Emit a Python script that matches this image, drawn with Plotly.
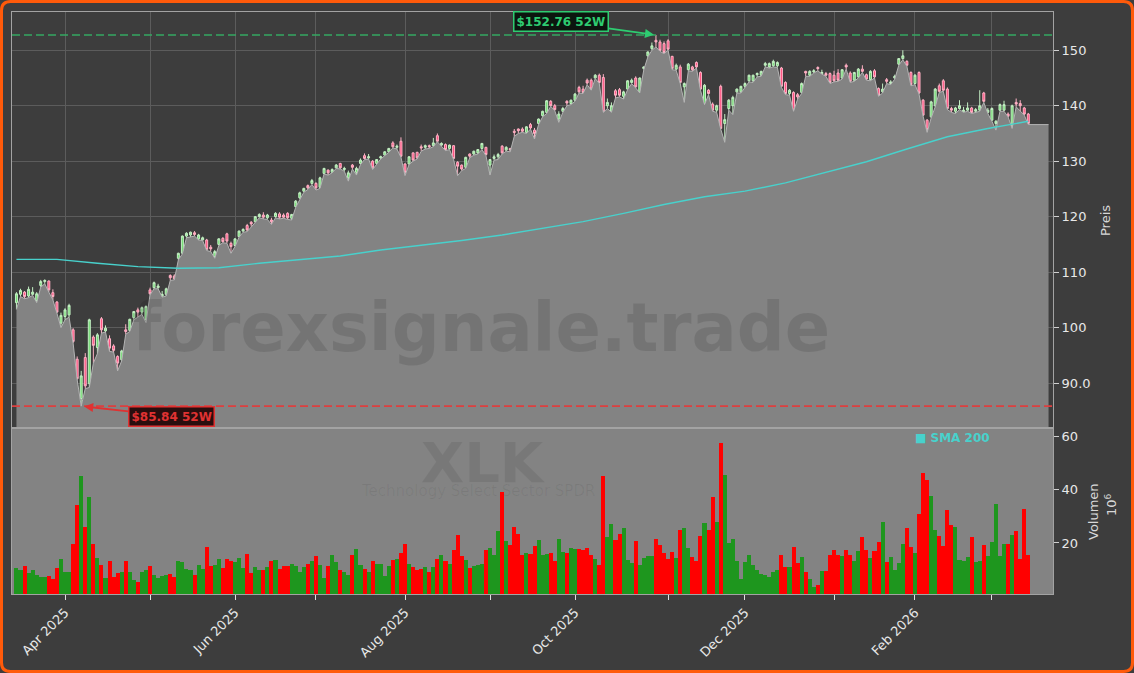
import pandas as pd
import plotly.graph_objects as go

# ---------------- data ----------------
holidays = ["2025-04-18", "2025-05-26", "2025-06-19", "2025-07-04", "2025-09-01",
            "2025-11-27", "2025-12-25", "2026-01-01", "2026-01-19", "2026-02-16"]
dates = [d for d in pd.bdate_range("2025-03-14", "2026-03-13")
         if d.strftime("%Y-%m-%d") not in holidays]

opens = [
    104.5, 106.0, 106.4, 105.7, 106.0, 104.9, 107.6, 108.3, 108.4, 106.3,
    104.6, 100.8, 102.0, 102.3, 99.6, 94.3, 87.2, 94.6, 89.9, 98.3,
    96.4, 101.6, 99.4, 98.0, 96.7, 94.8, 94.2, 99.6, 99.5, 101.8,
    103.2, 102.8, 101.5, 106.8, 107.2, 107.2, 105.7, 106.0, 109.4, 109.3,
    112.5, 113.4, 116.5, 116.7, 117.1, 116.0, 115.8, 115.8, 114.5, 112.8,
    115.0, 116.1, 116.9, 115.2, 114.8, 116.4, 117.4, 118.4, 119.0, 119.1,
    120.0, 120.3, 119.8, 119.4, 120.0, 120.5, 120.3, 120.6, 119.7, 121.8,
    123.4, 124.6, 125.6, 126.0, 126.0, 125.3, 127.8, 128.4, 128.0, 128.8,
    129.6, 128.5, 127.0, 129.3, 128.0, 129.6, 131.0, 130.6, 130.0, 129.6,
    130.6, 131.1, 131.7, 133.3, 132.5, 133.6, 129.5, 129.5, 131.5, 131.6,
    132.6, 132.5, 132.8, 132.8, 134.6, 132.9, 133.0, 132.3, 132.8, 129.8,
    129.3, 128.9, 131.3, 131.3, 131.5, 132.3, 132.5, 129.3, 130.5, 130.8,
    132.7, 132.0, 132.3, 135.4, 135.8, 135.8, 135.2, 136.6, 135.6, 136.8,
    138.2, 138.8, 140.8, 140.0, 137.6, 139.0, 140.8, 140.4, 141.0, 143.3,
    143.0, 144.6, 144.6, 145.0, 145.5, 145.1, 140.0, 139.0, 142.7, 142.9,
    141.7, 143.0, 144.2, 145.0, 142.5, 146.7, 149.0, 150.3, 151.8, 151.5,
    151.2, 151.7, 148.9, 146.6, 147.0, 143.4, 146.5, 147.0, 147.8, 146.0,
    140.4, 142.8, 140.3, 139.2, 143.5, 136.8, 139.5, 140.0, 142.5, 142.5,
    143.5, 144.5, 144.5, 145.6, 145.5, 147.3, 147.0, 147.2, 147.2, 146.8,
    144.2, 142.2, 142.4, 142.0, 142.4, 146.2, 145.5, 146.1, 146.9, 145.8,
    145.8, 145.8, 145.5, 145.9, 145.0, 147.3, 145.9, 144.6, 145.2, 146.6,
    145.6, 144.7, 146.3, 143.1, 142.5, 144.7, 144.0, 145.0, 147.5, 148.5,
    148.0, 146.0, 144.0, 146.0, 141.0, 137.4, 138.0, 140.0, 143.6, 144.5,
    143.0, 139.5, 139.0, 139.5, 138.9, 139.2, 139.6, 139.0, 139.2, 142.3,
    138.8, 137.4, 136.8, 139.2, 139.2, 138.5, 136.4, 140.6, 140.4, 139.6, 138.5]

highs = [
    106.4, 107.0, 106.6, 107.4, 107.3, 106.4, 108.6, 108.7, 108.5, 106.9,
    104.8, 102.7, 103.5, 104.3, 99.9, 94.8, 92.2, 95.4, 101.6, 98.6,
    99.0, 101.9, 100.4, 98.6, 97.0, 95.0, 96.0, 100.6, 101.6, 103.0,
    103.6, 103.8, 104.0, 107.2, 108.3, 107.9, 106.6, 107.2, 109.6, 109.6,
    113.5, 116.6, 117.2, 117.3, 117.4, 116.9, 116.4, 116.0, 114.9, 114.0,
    116.1, 116.3, 117.1, 115.5, 116.1, 117.5, 117.9, 118.7, 119.2, 120.1,
    120.6, 120.8, 120.5, 119.8, 120.8, 120.8, 120.6, 120.8, 120.5, 123.0,
    124.5, 125.2, 125.8, 126.8, 126.2, 127.2, 128.8, 128.5, 128.7, 129.5,
    129.7, 129.0, 128.3, 129.5, 129.0, 130.5, 131.4, 131.3, 130.2, 130.4,
    131.0, 131.8, 132.4, 133.6, 133.0, 134.3, 129.6, 130.9, 131.6, 131.7,
    133.0, 133.0, 133.0, 134.2, 135.0, 133.4, 133.2, 133.0, 132.9, 130.0,
    129.4, 130.8, 131.4, 131.9, 132.2, 133.3, 132.6, 130.4, 131.2, 131.5,
    132.9, 132.7, 132.4, 135.8, 135.9, 136.1, 136.3, 136.9, 136.0, 137.7,
    139.1, 141.0, 141.0, 140.3, 139.0, 139.8, 141.0, 141.1, 142.3, 143.6,
    143.6, 144.9, 144.9, 145.7, 145.8, 145.7, 141.3, 140.6, 143.0, 143.2,
    142.7, 144.6, 144.9, 145.3, 145.1, 147.1, 149.8, 151.4, 152.76, 151.9,
    151.6, 152.0, 149.0, 147.6, 147.4, 144.2, 147.7, 147.2, 148.0, 146.2,
    143.9, 143.0, 140.6, 140.2, 143.8, 138.5, 141.2, 141.8, 143.1, 143.6,
    144.2, 145.6, 145.6, 146.0, 146.3, 147.9, 147.8, 148.3, 148.0, 147.0,
    144.4, 143.0, 142.6, 142.3, 144.2, 146.3, 146.4, 146.6, 147.1, 146.5,
    146.1, 146.0, 146.3, 146.6, 146.6, 147.6, 146.2, 146.1, 146.8, 147.3,
    145.8, 146.4, 146.6, 143.3, 144.0, 145.0, 144.6, 145.6, 148.6, 150.0,
    148.2, 146.2, 145.7, 146.2, 141.2, 137.6, 140.9, 143.2, 144.0, 144.8,
    143.3, 139.8, 139.8, 141.0, 139.8, 140.6, 139.8, 139.6, 142.8, 142.5,
    139.6, 139.7, 137.4, 140.4, 140.9, 138.8, 140.2, 141.3, 141.0, 139.8, 138.7]

lows = [
    103.3, 105.6, 105.2, 105.4, 105.8, 104.5, 107.3, 107.9, 106.4, 105.0,
    102.6, 100.0, 101.4, 101.9, 97.2, 90.6, 85.84, 89.0, 89.2, 93.6,
    95.3, 99.0, 99.2, 95.7, 95.6, 92.2, 94.0, 98.8, 99.3, 101.4,
    101.9, 102.4, 100.9, 105.9, 107.0, 107.0, 105.5, 105.7, 108.5, 108.6,
    112.2, 113.3, 116.2, 116.3, 116.5, 115.8, 115.7, 113.9, 113.7, 112.5,
    114.8, 115.3, 115.2, 113.4, 114.6, 116.3, 117.2, 117.3, 118.2, 118.9,
    119.8, 119.6, 119.5, 118.6, 119.8, 119.6, 119.7, 119.5, 119.4, 121.7,
    123.2, 124.4, 124.9, 125.8, 124.8, 125.1, 127.7, 127.5, 127.9, 128.7,
    128.6, 128.2, 126.4, 128.6, 127.5, 129.4, 130.3, 130.4, 128.5, 129.4,
    130.4, 131.0, 131.6, 132.4, 132.2, 130.7, 127.4, 129.4, 130.0, 130.4,
    131.8, 132.2, 132.3, 132.6, 133.5, 132.7, 131.9, 132.1, 130.3, 127.4,
    128.3, 128.7, 130.6, 131.1, 131.3, 132.1, 131.0, 127.5, 130.2, 130.3,
    131.3, 131.8, 131.7, 134.5, 135.0, 135.2, 135.0, 135.8, 134.0, 136.6,
    138.0, 138.6, 139.9, 139.1, 137.0, 138.8, 140.0, 140.2, 140.8, 142.3,
    142.2, 143.8, 142.8, 144.9, 144.0, 138.8, 139.5, 138.8, 141.4, 141.6,
    141.2, 142.9, 144.0, 143.2, 142.3, 146.5, 148.8, 150.0, 150.6, 149.8,
    149.4, 150.0, 146.5, 146.4, 144.0, 140.6, 146.3, 146.2, 146.8, 142.8,
    140.2, 142.0, 139.0, 138.8, 135.8, 133.4, 139.2, 138.4, 142.3, 142.3,
    143.2, 144.3, 144.2, 145.2, 145.3, 147.0, 146.8, 147.0, 146.9, 143.3,
    142.0, 141.9, 139.0, 141.2, 142.2, 145.3, 145.3, 145.9, 146.3, 145.7,
    145.3, 144.0, 144.3, 144.4, 144.8, 146.6, 144.2, 144.4, 145.0, 146.0,
    144.6, 144.5, 145.0, 141.7, 142.3, 144.0, 143.8, 144.8, 147.3, 148.3,
    147.1, 143.6, 143.8, 142.1, 138.1, 135.2, 137.8, 139.8, 142.4, 142.6,
    139.3, 138.8, 138.6, 139.3, 138.8, 139.0, 138.6, 138.8, 139.0, 140.6,
    138.6, 137.2, 135.6, 139.0, 139.0, 138.0, 135.9, 139.8, 139.0, 138.3, 136.6]

closes = [
    106.1, 106.7, 105.6, 106.9, 106.4, 106.1, 108.3, 108.5, 106.8, 105.6,
    102.8, 102.2, 103.2, 104.0, 97.5, 90.8, 91.3, 89.5, 101.4, 96.8,
    98.7, 99.6, 99.9, 96.3, 95.9, 93.6, 95.8, 99.3, 101.5, 102.9,
    102.8, 103.6, 103.8, 106.1, 108.1, 107.5, 106.0, 107.0, 109.0, 108.8,
    113.4, 116.5, 117.0, 117.2, 116.8, 116.7, 116.2, 114.1, 114.2, 113.7,
    116.0, 115.5, 115.6, 114.6, 116.0, 117.4, 117.7, 117.6, 118.7, 120.0,
    120.4, 119.9, 120.3, 119.1, 120.6, 119.9, 119.9, 119.8, 120.4, 122.8,
    124.3, 125.1, 125.2, 126.5, 125.2, 127.0, 128.7, 127.9, 128.5, 129.3,
    128.8, 128.7, 127.9, 128.9, 128.7, 130.2, 130.5, 130.8, 128.8, 130.3,
    130.8, 131.7, 132.3, 132.6, 132.7, 130.9, 128.0, 130.8, 130.2, 130.6,
    132.4, 132.8, 132.6, 133.3, 133.6, 133.2, 132.1, 132.9, 130.5, 129.1,
    128.6, 130.7, 130.9, 131.8, 132.1, 133.2, 131.2, 130.3, 130.8, 131.2,
    131.5, 132.5, 132.0, 135.2, 135.5, 135.4, 136.2, 136.0, 135.0, 137.6,
    139.0, 140.9, 140.0, 139.3, 138.5, 139.5, 140.5, 141.0, 142.1, 142.5,
    142.4, 144.1, 143.0, 145.5, 144.2, 138.9, 140.6, 140.0, 141.9, 141.9,
    142.5, 144.5, 144.6, 143.4, 145.0, 147.0, 149.7, 150.8, 151.5, 150.0,
    149.6, 150.2, 146.7, 147.3, 144.2, 144.0, 147.5, 146.5, 147.0, 143.0,
    143.7, 142.2, 139.2, 140.0, 135.9, 137.5, 141.0, 141.5, 143.0, 143.5,
    144.0, 145.5, 145.5, 145.8, 146.2, 147.6, 147.6, 148.0, 147.8, 143.5,
    142.2, 142.8, 139.2, 141.6, 144.0, 145.9, 146.2, 146.3, 146.7, 146.0,
    145.5, 144.2, 144.5, 144.6, 146.5, 147.0, 144.4, 146.0, 146.6, 146.2,
    144.8, 146.2, 145.2, 141.9, 143.0, 144.4, 144.3, 145.3, 148.5, 149.0,
    147.3, 143.8, 145.5, 142.3, 138.3, 135.7, 140.7, 143.0, 142.6, 142.8,
    139.5, 139.2, 139.6, 140.0, 139.2, 139.6, 138.8, 139.3, 140.0, 140.8,
    139.2, 139.5, 137.2, 140.2, 140.2, 138.1, 140.0, 140.3, 140.0, 138.5, 136.8]

volumes_mio = [
    10.5, 9.9, 11.4, 8.7, 10.0, 8.0, 7.4, 7.2, 7.7, 6.4,
    10.5, 13.9, 9.0, 9.0, 19.6, 34.2, 45.1, 26.1, 37.1, 19.6,
    14.3, 11.8, 6.8, 13.3, 7.4, 8.9, 9.0, 13.3, 9.0, 6.2,
    5.4, 9.1, 9.9, 11.4, 8.0, 6.8, 7.7, 8.0, 8.4, 7.4,
    13.3, 12.7, 10.4, 9.7, 8.0, 11.8, 10.3, 18.5, 11.4, 11.8,
    14.0, 10.8, 14.0, 13.3, 12.9, 14.4, 10.8, 15.9, 8.9, 11.0,
    9.7, 9.7, 11.0, 13.3, 13.6, 10.4, 11.2, 11.4, 12.1, 11.4,
    9.1, 11.0, 12.1, 13.3, 15.1, 11.8, 6.9, 11.4, 15.5, 12.9,
    9.9, 9.1, 8.0, 15.5, 17.8, 11.8, 10.3, 9.1, 13.3, 12.1,
    12.1, 7.7, 11.4, 13.6, 13.9, 16.4, 19.6, 12.1, 11.0, 9.9,
    10.3, 11.0, 9.2, 11.0, 14.0, 15.5, 13.3, 12.1, 17.4, 23.0,
    15.1, 13.6, 10.7, 11.2, 11.6, 12.1, 17.4, 18.1, 15.5, 24.6,
    39.1, 20.8, 19.3, 26.0, 23.4, 15.5, 16.3, 15.9, 18.9, 21.1,
    15.5, 15.9, 16.3, 13.3, 21.5, 16.6, 16.3, 18.1, 17.8, 17.8,
    17.4, 18.1, 15.5, 14.0, 11.8, 45.1, 22.2, 27.1, 21.1, 23.4,
    25.6, 13.6, 12.4, 20.8, 11.8, 14.4, 15.1, 15.1, 21.5, 19.3,
    16.3, 14.0, 16.6, 14.4, 24.9, 25.6, 18.1, 14.8, 13.3, 22.6,
    27.5, 24.9, 37.2, 27.8, 57.5, 45.4, 20.0, 21.5, 13.3, 6.6,
    12.9, 15.5, 11.8, 9.9, 8.4, 8.0, 7.4, 9.1, 9.9, 15.4,
    11.0, 11.0, 18.3, 12.4, 14.8, 9.1, 6.6, 3.5, 4.3, 9.5,
    9.5, 15.4, 17.4, 15.5, 15.0, 17.4, 15.4, 13.3, 16.9, 22.4,
    17.4, 14.4, 17.0, 20.2, 28.0, 12.9, 14.9, 9.9, 12.4, 19.6,
    25.7, 18.6, 16.1, 30.8, 46.3, 43.6, 37.6, 24.9, 22.6, 18.9,
    32.3, 26.7, 26.1, 13.6, 13.3, 14.9, 22.4, 13.0, 13.3, 19.3,
    15.3, 20.5, 34.6, 15.3, 19.6, 19.6, 23.0, 24.6, 14.1, 32.8, 15.5]

# SMA 200 read every 10 trading days
sma_step = 10
sma200 = [112.3, 112.3, 111.6, 111.0, 110.7, 110.8, 111.6, 112.3, 112.9, 114.0,
          114.8, 115.7, 116.7, 117.9, 119.1, 120.6, 122.2, 123.6, 124.6, 126.1,
          128.0, 129.9, 132.2, 134.4, 135.9, 137.2]

month_tick_labels = ["Apr 2025", "", "Jun 2025", "", "Aug 2025", "", "Oct 2025", "",
                     "Dec 2025", "", "Feb 2026", ""]
price_ticks = [90, 100, 110, 120, 130, 140, 150]
price_tick_labels = ["90.0", "100", "110", "120", "130", "140", "150"]
volume_ticks = [20, 40, 60]

# ---------------- layout constants ----------------
W, H = 1134, 673
ML, MR, MT, MB = 12, 81, 12, 79
PW, PH = W - ML - MR, H - MT - MB
VOL_TOP = (594 - 428) / PH
X_RANGE = [-1.1, 256.1]
AREA_EXT = 5
BG = "#3d3d3d"
GREY = "#838383"
FONT = "DejaVu Sans"


def fx(px):
    return (px - ML) / PW


def fy(py):
    return (H - MB - py) / PH


n = len(closes)
idx = list(range(n))
sma_x = [i * sma_step for i in range(len(sma200))]
month_pos = [i for i in range(1, n) if dates[i].month != dates[i - 1].month]
vol_colors = ["#1e961e" if c >= o else "#ff0000" for o, c in zip(opens, closes)]
high_52w = max(highs)
low_52w = min(lows)
i_hi = highs.index(high_52w)
i_lo = lows.index(low_52w)

fig = go.Figure()

# area under the lows
fig.add_trace(go.Scatter(
    x=idx + [n - 1 + AREA_EXT], y=lows + [lows[-1]], mode="lines",
    line=dict(color="#b4b4b4", width=1), fill="tozeroy", fillcolor=GREY,
    hoverinfo="skip", showlegend=False, xaxis="x", yaxis="y"))

# SMA 200
fig.add_trace(go.Scatter(
    x=sma_x, y=sma200, mode="lines", line=dict(color="#48d1cc", width=1.4),
    name="SMA 200", showlegend=False, xaxis="x", yaxis="y"))

# candles
fig.add_trace(go.Candlestick(
    x=idx, open=opens, high=highs, low=lows, close=closes,
    increasing=dict(fillcolor="#6fdc6f", line=dict(color="#c4efc4", width=1)),
    decreasing=dict(fillcolor="#ff4f7f", line=dict(color="#ffb3c6", width=1)),
    whiskerwidth=0, showlegend=False, xaxis="x", yaxis="y"))

# volume
fig.add_trace(go.Bar(
    x=idx, y=volumes_mio, marker=dict(color=vol_colors, line=dict(width=0)),
    width=1.0, showlegend=False, xaxis="x2", yaxis="y2"))

axis_font = dict(family=FONT, size=13, color="#e8e8e8")

fig.update_layout(
    width=W, height=H,
    margin=dict(l=ML, r=MR, t=MT, b=MB, autoexpand=False),
    paper_bgcolor=BG, plot_bgcolor=BG,
    font=dict(family=FONT, color="#e8e8e8"),
    showlegend=False, bargap=0,
    xaxis=dict(domain=[0, 1], anchor="y", range=X_RANGE, rangeslider=dict(visible=False),
               tickvals=month_pos, showticklabels=False, ticks="", automargin=False,
               showgrid=True, gridcolor="#5c5c5c", gridwidth=1, zeroline=False,
               showline=True, linecolor="#a3a3a3", linewidth=1, mirror=True),
    yaxis=dict(domain=[VOL_TOP, 1], anchor="x", side="right", range=[81.9, 156.9],
               tickvals=price_ticks, ticktext=price_tick_labels, tickfont=axis_font,
               ticks="outside", ticklen=5, tickcolor="#d0d0d0", automargin=False,
               showgrid=True, gridcolor="#5c5c5c", gridwidth=1, zeroline=False,
               showline=True, linecolor="#a3a3a3", linewidth=1, mirror=True),
    xaxis2=dict(domain=[0, 1], anchor="y2", range=X_RANGE, matches="x",
                tickvals=month_pos, ticktext=month_tick_labels, tickangle=-45,
                tickfont=axis_font, ticks="outside", ticklen=5, tickcolor="#e0e0e0",
                showgrid=False, zeroline=False, automargin=False,
                showline=True, linecolor="#a3a3a3", linewidth=1, mirror=True),
    yaxis2=dict(domain=[0, VOL_TOP], anchor="x2", side="right", range=[0.9, 63],
                tickvals=volume_ticks, tickfont=axis_font,
                ticks="outside", ticklen=5, tickcolor="#d0d0d0",
                showgrid=False, zeroline=False, automargin=False,
                showline=True, linecolor="#a3a3a3", linewidth=1, mirror=True),
)

shapes = [
    dict(type="rect", xref="paper", yref="paper", x0=0, x1=1, y0=0, y1=VOL_TOP,
         fillcolor=GREY, line=dict(width=0), layer="below"),
    dict(type="line", xref="paper", yref="y", x0=0, x1=1, y0=high_52w, y1=high_52w,
         line=dict(color="#35a862", width=1.6, dash="8px,4px")),
    dict(type="line", xref="paper", yref="y", x0=0, x1=1, y0=low_52w, y1=low_52w,
         line=dict(color="#dd3f3f", width=1.6, dash="8px,4px")),
]
# orange rounded frame around the figure
r = 9
x0p, x1p, y0p, y1p = 1.5, W - 1.5, 1.5, H - 1.5
path = (f"M {fx(x0p + r)} {fy(y0p)} L {fx(x1p - r)} {fy(y0p)} "
        f"Q {fx(x1p)} {fy(y0p)} {fx(x1p)} {fy(y0p + r)} L {fx(x1p)} {fy(y1p - r)} "
        f"Q {fx(x1p)} {fy(y1p)} {fx(x1p - r)} {fy(y1p)} L {fx(x0p + r)} {fy(y1p)} "
        f"Q {fx(x0p)} {fy(y1p)} {fx(x0p)} {fy(y1p - r)} L {fx(x0p)} {fy(y0p + r)} "
        f"Q {fx(x0p)} {fy(y0p)} {fx(x0p + r)} {fy(y0p)} Z")
shapes.append(dict(type="path", xref="paper", yref="paper", path=path,
                   line=dict(color="#ff5a0a", width=3)))
fig.update_layout(shapes=shapes)

C = dict(xanchor="center", yanchor="middle", showarrow=False, xref="paper", yref="paper")
annotations = [
    # watermarks
    dict(text="forexsignale.trade", x=fx(481), y=fy(328),
         font=dict(family=FONT, size=67, color="rgba(0,0,0,0.11)", weight="bold"), **C),
    dict(text="XLK", x=fx(483), y=fy(462),
         font=dict(family=FONT, size=56, color="rgba(0,0,0,0.08)", weight="bold"), **C),
    dict(text="Technology Select Sector SPDR", x=fx(478), y=fy(491),
         font=dict(family=FONT, size=15, color="rgba(0,0,0,0.06)"), **C),
    # legend
    dict(text="■ SMA 200", xref="paper", yref="paper", x=fx(913), y=fy(438),
         xanchor="left", yanchor="middle", showarrow=False,
         font=dict(family=FONT, size=12, color="#48d1cc", weight="bold")),
    # axis titles
    dict(text="Preis", x=fx(1106), y=fy(221), textangle=-90,
         font=dict(family=FONT, size=13, color="#d8d8d8"), **C),
    dict(text="Volumen", x=fx(1093), y=fy(512), textangle=-90,
         font=dict(family=FONT, size=13, color="#d8d8d8"), **C),
    dict(text="10<sup>6</sup>", x=fx(1111), y=fy(505), textangle=-90,
         font=dict(family=FONT, size=13, color="#d8d8d8"), **C),
    # 52W high / low
    dict(text=f"${high_52w:.2f} 52W", x=i_hi, y=high_52w, xref="x", yref="y",
         ax=-95, ay=-13, showarrow=True, arrowhead=2, arrowsize=1, arrowwidth=1.8,
         arrowcolor="#2ecc71", standoff=2,
         bgcolor="#0c160f", bordercolor="#2ecc71", borderwidth=1.5, borderpad=2,
         font=dict(family=FONT, size=12, color="#2ecc71", weight="bold")),
    dict(text=f"${low_52w:.2f} 52W", x=i_lo, y=low_52w, xref="x", yref="y",
         ax=90, ay=10, showarrow=True, arrowhead=2, arrowsize=1, arrowwidth=1.8,
         arrowcolor="#e03232", standoff=3,
         bgcolor="#2a0e0e", bordercolor="#e03232", borderwidth=1.5, borderpad=2,
         font=dict(family=FONT, size=12, color="#e03232", weight="bold")),
]
fig.update_layout(annotations=annotations)

fig.write_html("out.html", config={"displayModeBar": False},
               post_script="document.body.style.margin='0';document.body.style.background='#ffffff';")
